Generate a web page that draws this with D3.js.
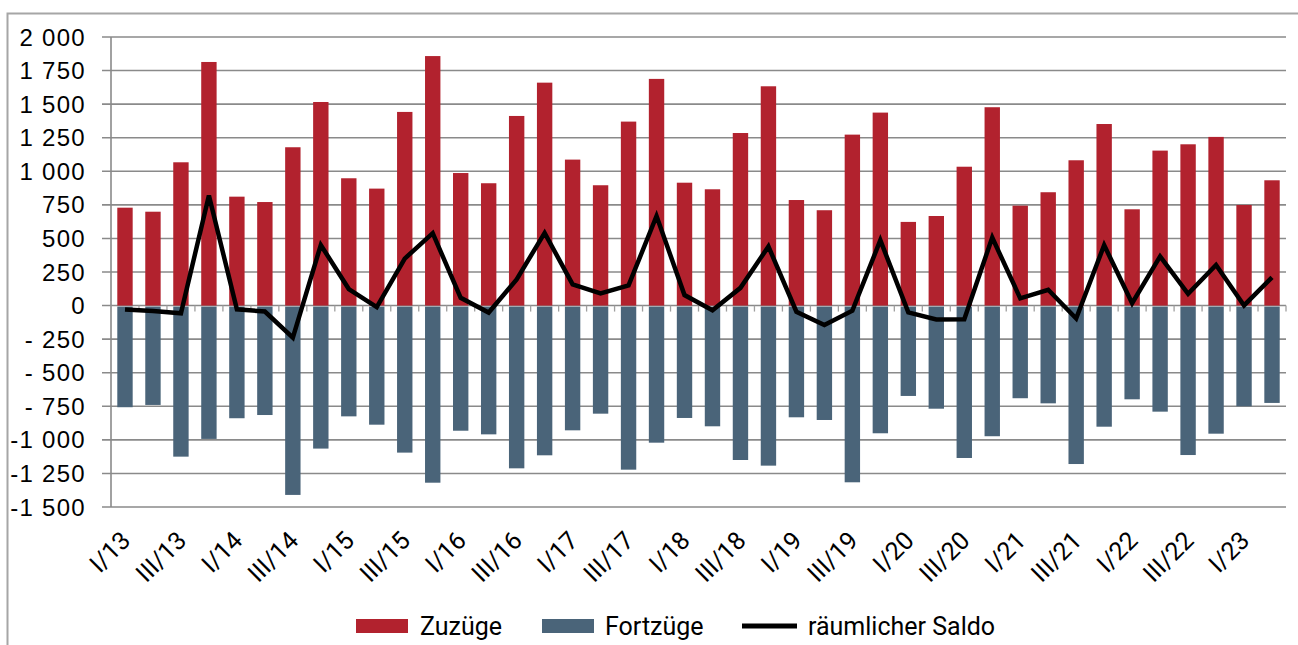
<!DOCTYPE html>
<html>
<head>
<meta charset="utf-8">
<script src="https://cdn.jsdelivr.net/npm/d3@7"></script>
<style>
  body { margin: 0; background: #fff; }
  svg { display: block; }
</style>
</head>
<body>
<svg width="1298" height="645"></svg>
<script>
// Quartale I/13 bis II/23
var years = ["13", "14", "15", "16", "17", "18", "19", "20", "21", "22", "23"]
var quarterNames = ["I", "II", "III", "IV"]
var quarters = []
years.forEach(function(y) {
  quarterNames.forEach(function(q) { quarters.push(q + "/" + y) })
})
quarters = quarters.slice(0, 42)

// Zuzüge je Quartal
var zuzuege = [
  729, 699, 1067, 1814, 811, 771, 1179, 1516,
  948, 871, 1442, 1858, 987, 911, 1412, 1660,
  1087, 896, 1370, 1688, 915, 866, 1285, 1633,
  786, 710, 1273, 1437, 623, 667, 1034, 1477,
  744, 844, 1082, 1352, 717, 1154, 1201, 1256,
  749, 933
]

// Fortzüge je Quartal (negativ dargestellt)
var fortzuege = [
  -757, -740, -1125, -993, -839, -815, -1410, -1065,
  -825, -887, -1095, -1319, -932, -959, -1212, -1115,
  -929, -805, -1222, -1021, -837, -899, -1150, -1192,
  -832, -852, -1316, -951, -673, -768, -1135, -973,
  -690, -728, -1180, -902, -698, -790, -1113, -954,
  -750, -725
]

// räumlicher Saldo
var saldo = [
  -30, -41, -58, 820, -28, -44, -238, 451,
  123, -12, 350, 539, 58, -52, 195, 541,
  158, 91, 150, 667, 78, -35, 132, 440,
  -46, -145, -38, 487, -51, -104, -102, 507,
  54, 118, -96, 450, 18, 366, 87, 302,
  1, 210
]

var yTicks = [2000, 1750, 1500, 1250, 1000, 750, 500, 250, 0, -250, -500, -750, -1000, -1250, -1500]
var yTickLabels = ["2 000", "1 750", "1 500", "1 250", "1 000", "750", "500", "250", "0",
  "- 250", "- 500", "- 750", "-1 000", "-1 250", "-1 500"]

var legendItems = ["Zuzüge", "Fortzüge", "räumlicher Saldo"]

var red = "#b2222e"
var blue = "#4a6479"
var gridColor = "#8a8a8a"

var svg = d3.select("svg")

// äußerer Rahmen
svg.append("rect")
  .attr("x", 7.5).attr("y", 13.5)
  .attr("width", 1400).attr("height", 700)
  .attr("fill", "none")
  .attr("stroke", "#a6a6a6")
  .attr("stroke-width", 2)

var plotLeft = 111, plotRight = 1286, plotTop = 37, plotBottom = 507

var x = d3.scaleBand()
  .domain(quarters)
  .range([plotLeft, plotRight])
  .paddingInner(0.45)
  .paddingOuter(0.225)

var y = d3.scaleLinear()
  .domain([-1500, 2000])
  .range([plotBottom, plotTop])

// Gitterlinien + Ticks links
svg.append("g").selectAll("line")
  .data(yTicks)
  .enter().append("line")
  .attr("x1", plotLeft - 9).attr("x2", plotRight)
  .attr("y1", function(d) { return y(d) })
  .attr("y2", function(d) { return y(d) })
  .attr("stroke", gridColor)
  .attr("stroke-width", 1.6)

svg.append("line")
  .attr("x1", plotLeft).attr("x2", plotLeft)
  .attr("y1", plotTop).attr("y2", plotBottom)
  .attr("stroke", gridColor)
  .attr("stroke-width", 1.6)

svg.append("g").selectAll("text")
  .data(yTicks)
  .enter().append("text")
  .attr("x", 86)
  .attr("y", function(d) { return y(d) })
  .attr("dy", "0.36em")
  .attr("text-anchor", "end")
  .style("font-family", "'Liberation Sans', Arial, sans-serif")
  .style("font-size", "24px")
  .style("letter-spacing", "1.3px")
  .attr("fill", "#000")
  .text(function(d, i) { return yTickLabels[i] })

// x-Achse: kleine Ticks an den Kategoriegrenzen
var boundaries = d3.range(quarters.length + 1).map(function(i) {
  return plotLeft + i * x.step()
})
svg.append("g").selectAll("line")
  .data(boundaries)
  .enter().append("line")
  .attr("x1", function(d) { return d }).attr("x2", function(d) { return d })
  .attr("y1", y(0)).attr("y2", y(0) + 6)
  .attr("stroke", "#a0a0a0")
  .attr("stroke-width", 1.3)

// Balken
svg.append("g").selectAll("rect")
  .data(zuzuege)
  .enter().append("rect")
  .attr("x", function(d, i) { return x(quarters[i]) })
  .attr("width", x.bandwidth())
  .attr("y", function(d) { return y(d) })
  .attr("height", function(d) { return y(0) - y(d) })
  .attr("fill", red)

svg.append("g").selectAll("rect")
  .data(fortzuege)
  .enter().append("rect")
  .attr("x", function(d, i) { return x(quarters[i]) })
  .attr("width", x.bandwidth())
  .attr("y", y(0) + 1)
  .attr("height", function(d) { return y(d) - y(0) - 1 })
  .attr("fill", blue)

// Saldo-Linie
var line = d3.line()
  .x(function(d, i) { return x(quarters[i]) + x.bandwidth() / 2 })
  .y(function(d) { return y(d) })

svg.append("path")
  .datum(saldo)
  .attr("d", line)
  .attr("fill", "none")
  .attr("stroke", "#000")
  .attr("stroke-width", 4.5)
  .attr("stroke-linejoin", "miter")

// x-Beschriftung (jedes zweite Quartal)
svg.append("g").selectAll("text")
  .data(quarters.filter(function(d, i) { return i % 2 === 0 }))
  .enter().append("text")
  .attr("transform", function(d) {
    var cx = x(d) + x.bandwidth() / 2
    return "translate(" + (cx + 7) + "," + 542 + ") rotate(-45)"
  })
  .attr("text-anchor", "end")
  .style("font-family", "Roboto, sans-serif")
  .style("font-size", "25px")
  .attr("fill", "#000")
  .text(function(d) { return d })

// Legende
var legend = svg.append("g")
legend.append("rect").attr("x", 356).attr("y", 619).attr("width", 52).attr("height", 14).attr("fill", red)
legend.append("rect").attr("x", 542).attr("y", 619).attr("width", 52).attr("height", 14).attr("fill", blue)
legend.append("line").attr("x1", 742).attr("x2", 797).attr("y1", 626).attr("y2", 626)
  .attr("stroke", "#000").attr("stroke-width", 5)

legend.selectAll("text")
  .data(legendItems)
  .enter().append("text")
  .attr("x", function(d, i) { return [420, 605, 808][i] })
  .attr("y", 635)
  .style("font-family", "Roboto, sans-serif")
  .style("font-size", "25px")
  .attr("fill", "#000")
  .text(function(d) { return d })
</script>
</body>
</html>
